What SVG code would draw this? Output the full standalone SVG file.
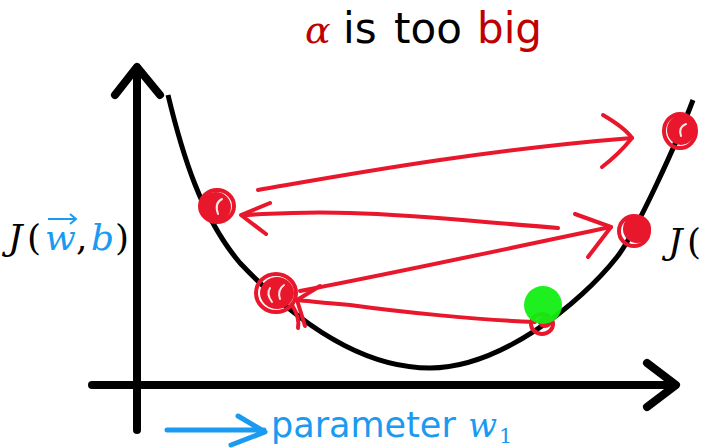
<svg xmlns="http://www.w3.org/2000/svg" width="701" height="448" viewBox="0 0 701 448">
<style>
.axis{stroke:#000;stroke-width:8;fill:none;stroke-linecap:round;stroke-linejoin:round}
.curve{stroke:#000;stroke-width:5;fill:none}
.red{stroke:#e8172b;stroke-width:4;fill:none;stroke-linecap:round;stroke-linejoin:round}
.blob{fill:#e8172b}
.hl{stroke:#fff;stroke-width:2;fill:none;stroke-linecap:round;opacity:0.9}
.sans{font-family:"DejaVu Sans","Verdana",sans-serif}
.serif{font-family:"DejaVu Serif","Liberation Serif",serif;font-style:italic}
.upr{font-family:"DejaVu Serif","Liberation Serif",serif}
</style>
<rect width="701" height="448" fill="#fff"/>
<g id="axes">
<path class="axis" d="M137,68 V430"/>
<path class="axis" d="M115,95 L137,67 L160,95"/>
<path class="axis" d="M92,385 H675"/>
<path class="axis" d="M647,363 L676,385 L647,407"/>
</g>
<g id="cost-curve">
<path class="curve" d="M168,95 C182,153 201,217 240,263 C280,305 350,368 430,368 C500,368 580,304 617,257 C636,233 678,140 693,100"/>
</g>
<g id="title">
<text class="serif" x="305" y="43" font-size="38" fill="#c00000">α</text>
<text class="sans" x="343" y="43" font-size="42" fill="#000">is</text>
<text class="sans" x="394" y="43" font-size="42" fill="#000">too</text>
<text class="sans" x="477" y="43" font-size="42" fill="#c00000">big</text>
</g>
<g id="label-j-left">
<text class="serif" x="8" y="250" font-size="36" fill="#000">J</text>
<text class="upr" x="27" y="250" font-size="36" fill="#000">(</text>
<text class="serif" x="45" y="250" font-size="36" fill="#1a9af0">w</text>
<path d="M48,219 H76 M70,214 L76,219 L70,224" stroke="#1a9af0" stroke-width="2" fill="none"/>
<text class="upr" x="76" y="250" font-size="36" fill="#000">,</text>
<text class="serif" x="91" y="250" font-size="36" fill="#1a9af0">b</text>
<text class="upr" x="115" y="250" font-size="36" fill="#000">)</text>
</g>
<g id="label-j-right">
<text class="serif" x="668" y="254" font-size="36" fill="#000">J</text>
<text class="upr" x="687" y="254" font-size="36" fill="#000">(</text>
</g>
<g id="label-parameter">
<path d="M167,430 H264 M238,416 L265,432 L231,445" stroke="#1a9af0" stroke-width="5" fill="none" stroke-linecap="round" stroke-linejoin="round"/>
<text class="sans" x="271" y="437" font-size="35" fill="#1a9af0">parameter</text>
<text class="serif" x="468" y="437" font-size="34" fill="#1a9af0">w</text>
<text class="upr" x="499" y="443" font-size="21" fill="#1a9af0">1</text>
</g>
<g id="connectors">
<path class="red" d="M258,190 C340,176 480,150 632,138"/>
<path class="red" d="M603,115 Q625,128 632,138 Q618,155 602,167"/>
<path class="red" d="M558,228 C480,222 420,215 350,213 C300,211 270,214 242,215"/>
<path class="red" d="M270,203 L241,215 L266,234"/>
<path class="red" d="M300,291 C400,272 500,250 611,227"/>
<path class="red" d="M575,214 L611,227 L588,257"/>
<path class="red" d="M535,322 C480,320 400,312 350,305 C320,302 305,301 297,300"/>
<path class="red" d="M320,286 L297,300 L305,326"/>
</g>
<g id="point-1">
<ellipse class="blob" cx="216" cy="207" rx="15" ry="15"/>
<ellipse class="red" cx="217" cy="206" rx="17" ry="16"/>
<path class="hl" d="M222,199 Q214,203 218,214"/>
</g>
<g id="point-2">
<ellipse class="blob" cx="277" cy="293" rx="17" ry="16"/>
<ellipse class="red" cx="276" cy="293" rx="20" ry="19"/>
<path class="red" d="M292,305 Q300,318 298,328"/>
<path class="hl" d="M270,288 Q266,294 272,302"/>
<path class="hl" d="M284,285 Q277,290 280,299"/>
</g>
<g id="point-3">
<ellipse class="blob" cx="681" cy="130" rx="14" ry="15"/>
<ellipse class="red" cx="680" cy="131" rx="16" ry="17"/>
<path class="hl" d="M686,124 Q678,127 681,136"/>
</g>
<g id="point-4">
<ellipse class="blob" cx="637" cy="229" rx="14" ry="14"/>
<ellipse class="red" cx="634" cy="231" rx="15" ry="15"/>
</g>
<g id="point-5">
<ellipse class="red" cx="542" cy="324" rx="11" ry="10"/>
<ellipse class="blob" cx="545" cy="322" rx="7" ry="6"/>
</g>
<g id="current-point">
<circle cx="543" cy="305" r="19" fill="#12ee12" opacity="0.95"/>
</g>
</svg>
